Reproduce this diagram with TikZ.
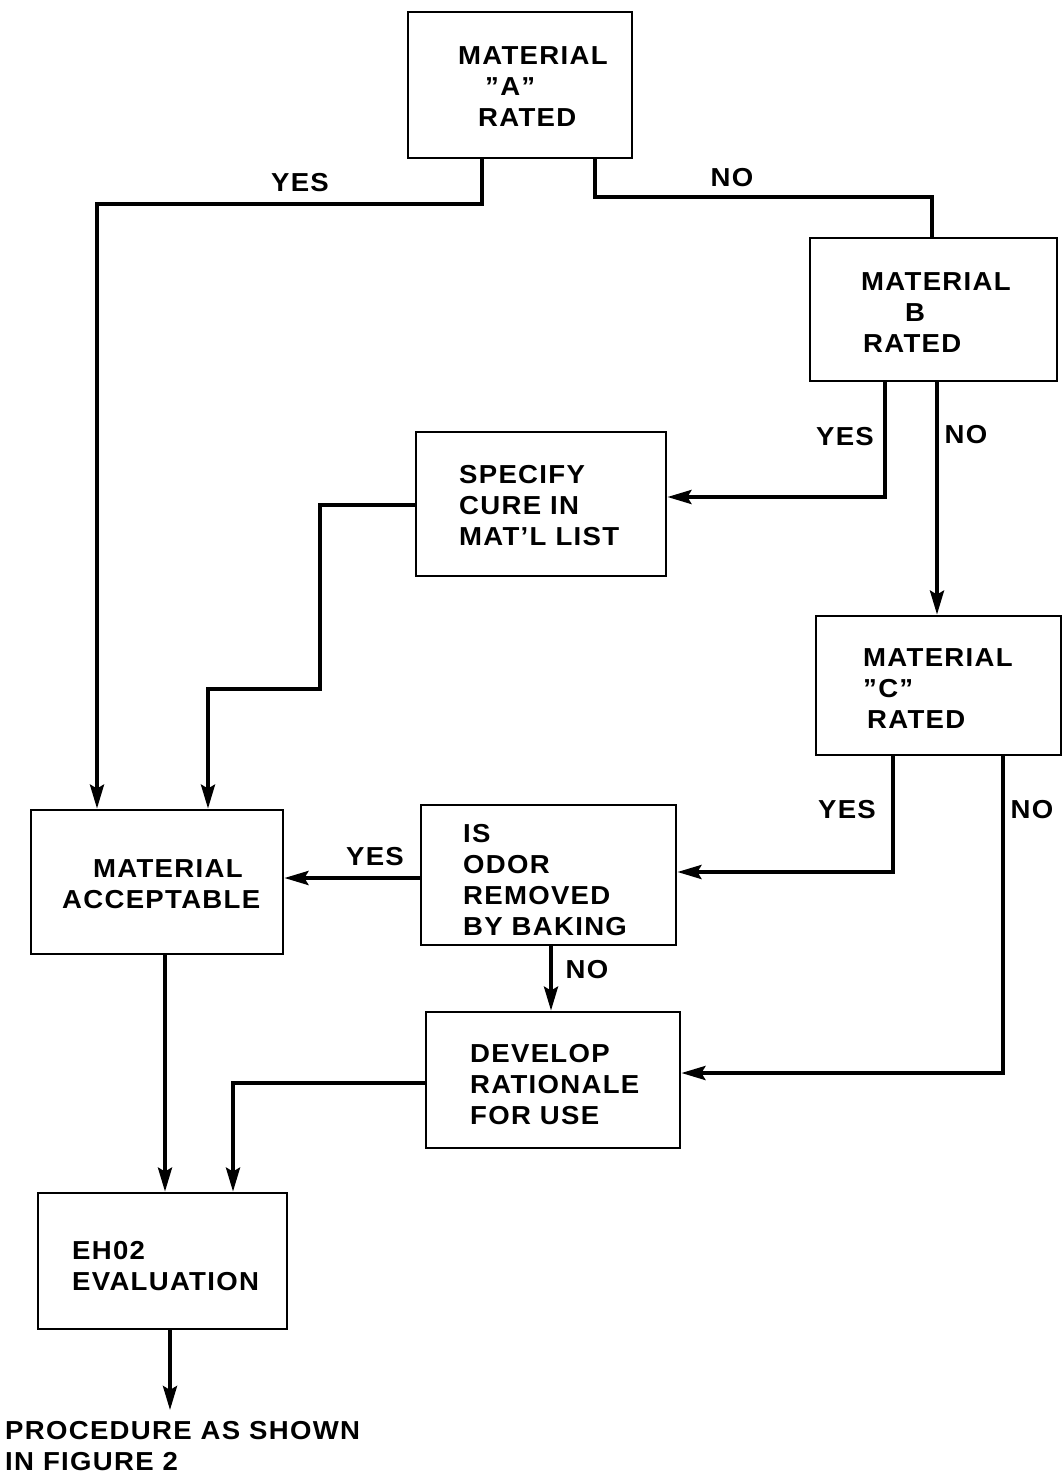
\documentclass[tikz,border=0pt]{standalone}
\usepackage{fontspec}
\setmainfont{Liberation Sans}[FakeStretch=1.06,LetterSpace=5]
\usetikzlibrary{arrows.meta}
\begin{document}
\begin{tikzpicture}[x=1pt,y=-1pt,
  box/.style={draw, line width=2.8pt, inner sep=0pt},
  txt/.style={font=\fontsize{26}{31}\selectfont\bfseries, align=left, inner sep=0pt, anchor=north west},
  lbl/.style={font=\fontsize{26}{31}\selectfont\bfseries, inner sep=0pt},
  conn/.style={line width=3.8pt},
  arr/.style={conn, -{Stealth[length=24pt,width=14pt,inset=4pt]}}]
\useasboundingbox (0,0) rectangle (1063,1482);
% boxes
\node[box, minimum width=224pt, minimum height=146pt] (A) at (520,85) {};
\node[box, minimum width=247pt, minimum height=143pt] (B) at (933.5,309.5) {};
\node[box, minimum width=250pt, minimum height=144pt] (S) at (541,504) {};
\node[box, minimum width=245pt, minimum height=139pt] (C) at (938.5,685.5) {};
\node[box, minimum width=252pt, minimum height=144pt] (M) at (157,882) {};
\node[box, minimum width=255pt, minimum height=140pt] (O) at (548.5,875) {};
\node[box, minimum width=254pt, minimum height=136pt] (D) at (553,1080) {};
\node[box, minimum width=249pt, minimum height=136pt] (E) at (162.5,1261) {};
% texts
\node[txt] (At) at (458,46) {MATERIAL\\\hspace{27pt}''A''\\\hspace{20pt}RATED};
\node[txt] (Bt) at (861,272) {MATERIAL\\\hspace{44pt}B\\\hspace{2pt}RATED};
\node[txt] (St) at (459,465) {SPECIFY\\CURE IN\\MAT'L LIST};
\node[txt] (Ct) at (863,648) {MATERIAL\\''C''\\\hspace{4pt}RATED};
\node[txt] (Mt) at (62,859) {\hspace{31pt}MATERIAL\\ACCEPTABLE};
\node[txt] (Ot) at (463,824) {IS\\ODOR\\REMOVED\\BY BAKING};
\node[txt] (Dt) at (470,1044) {DEVELOP\\RATIONALE\\FOR USE};
\node[txt] (Et) at (72,1241) {EH02\\EVALUATION};
\node[txt] (Pt) at (5,1421) {PROCEDURE AS SHOWN\\IN FIGURE 2};
% helper coordinates
\coordinate (a1) at (482,204);
\coordinate (a2) at (97,204);
\coordinate (b1) at (595,197);
\coordinate (b2) at (932,197);
\coordinate (c1) at (885,497);
\coordinate (c2) at (937,0);
\coordinate (d1) at (320,505);
\coordinate (d2) at (320,689);
\coordinate (d3) at (208,689);
\coordinate (e1) at (893,872);
\coordinate (f1) at (1003,1073);
\coordinate (g1) at (0,878);
\coordinate (h1) at (551,0);
\coordinate (i1) at (233,1083);
\coordinate (j1) at (165,0);
\coordinate (k1) at (170,0);
\coordinate (kend) at (170,1410);
% connectors
\draw[arr] (A.south -| a1) -- (a1) -- (a2) -- (a2 |- M.north);
\draw[conn] (A.south -| b1) -- (b1) -- (b2) -- (b2 |- B.north);
\draw[arr] (B.south -| c1) -- (c1) -- (c1 -| S.east);
\draw[arr] (B.south -| c2) -- (C.north -| c2);
\draw[arr] (S.west |- d1) -- (d1) -- (d2) -- (d3) -- (d3 |- M.north);
\draw[arr] (C.south -| e1) -- (e1) -- (e1 -| O.east);
\draw[arr] (C.south -| f1) -- (f1) -- (f1 -| D.east);
\draw[arr] (O.west |- g1) -- (M.east |- g1);
\draw[arr] (O.south -| h1) -- (D.north -| h1);
\draw[arr] (D.west |- i1) -- (i1) -- (i1 |- E.north);
\draw[arr] (M.south -| j1) -- (E.north -| j1);
\draw[arr] (E.south -| k1) -- (kend);
% labels
\node[lbl] (l1) at (300,183) {YES};
\node[lbl] (l2) at (732,178) {NO};
\node[lbl] (l3) at (845,437) {YES};
\node[lbl] (l4) at (966,435) {NO};
\node[lbl] (l5) at (847,810) {YES};
\node[lbl] (l6) at (1032,810) {NO};
\node[lbl] (l7) at (375,857) {YES};
\node[lbl] (l8) at (587,970) {NO};
\end{tikzpicture}
\end{document}
